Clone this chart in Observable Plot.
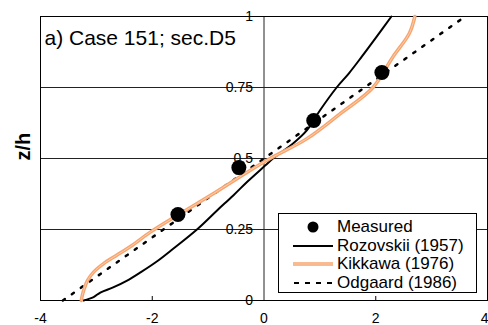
<!DOCTYPE html>
<html>
<head>
<meta charset="utf-8">
<script src="https://cdn.jsdelivr.net/npm/d3@7"></script>
<script src="https://cdn.jsdelivr.net/npm/@observablehq/plot@0.6"></script>
<style>
  html, body { margin: 0; padding: 0; background: #fff; }
  #wrap { position: relative; width: 488px; height: 325px; font-family: "Liberation Sans", Arial, sans-serif; }
  #legend { position: absolute; left: 278px; top: 213px; width: 197px; height: 78px; border: 1px solid #000; background: #fff; }
  .row { position: absolute; left: 0; height: 19px; display: flex; align-items: center; font-size: 17px; color: #000; }
  .row svg { display: block; margin-left: 14px; margin-right: 4px; }
</style>
</head>
<body>
<div id="wrap"></div>
<script>
// ---- data ----
const title = "a) Case 151; sec.D5";
const yLabel = "z/h";
const xTicks = [-4, -2, 0, 2, 4];
const xInnerTicks = [-2, 2];
const yTicks = [0, 0.25, 0.5, 0.75, 1];
const yTickLabels = ["0", "0.25", "0.5", "0.75", "1"];
const gridY = [0.25, 0.5, 0.75];

const measuredX = [-1.54, -0.45, 0.89, 2.11];
const measuredZ = [0.303, 0.468, 0.634, 0.803];

const rozovskiiX = [-3.23, -3.05, -2.93, -2.70, -2.45, -2.21, -1.90, -1.62, -1.20, -0.84, -0.55, -0.29, 0.02, 0.16, 0.52, 0.77, 1.00, 1.30, 1.52, 1.74, 2.02, 2.28];
const rozovskiiZ = [0.0, 0.012, 0.028, 0.046, 0.07, 0.099, 0.14, 0.183, 0.25, 0.317, 0.37, 0.42, 0.475, 0.5, 0.553, 0.6, 0.669, 0.75, 0.80, 0.856, 0.93, 1.0];

const kikkawaX = [-3.27, -3.25, -3.22, -3.16, -3.05, -2.87, -2.63, -2.39, -2.04, -1.50, -0.91, -0.25, 0.11, 0.77, 1.36, 1.95, 2.30, 2.60, 2.70];
const kikkawaZ = [0.0, 0.02, 0.04, 0.07, 0.10, 0.13, 0.16, 0.19, 0.24, 0.306, 0.376, 0.458, 0.5, 0.57, 0.657, 0.75, 0.856, 0.94, 1.0];

const odgaardX = [-3.6, 3.6];
const odgaardZ = [0, 1];

const seriesNames = ["Measured", "Rozovskii (1957)", "Kikkawa (1976)", "Odgaard (1986)"];

// ---- build ----
const zip = (xs, zs) => xs.map((x, i) => ({x, z: zs[i]}));
const measured = zip(measuredX, measuredZ);
const rozovskii = zip(rozovskiiX, rozovskiiZ);
const kikkawa = zip(kikkawaX, kikkawaZ);
const odgaard = zip(odgaardX, odgaardZ);
const yTickData = yTicks.map((v, i) => ({v, label: yTickLabels[i]}));
const xLabelsMain = xTicks.slice(0, -1);
const xLabelLast = xTicks.slice(-1);

const kColor = "#f7a56e";
const kInner = "#fcceb0";

const chart = Plot.plot({
  width: 488,
  height: 325,
  marginLeft: 40,
  marginRight: 1,
  marginTop: 16,
  marginBottom: 25,
  style: { fontFamily: "Liberation Sans, Arial, sans-serif", background: "#fff", color: "#000", overflow: "visible" },
  x: { domain: [-4, 4], axis: null },
  y: { domain: [0, 1], axis: null },
  marks: [
    Plot.ruleY(gridY, { stroke: "#222", strokeWidth: 1 }),
    Plot.ruleX([0], { stroke: "#222", strokeWidth: 1 }),
    Plot.frame({ stroke: "#000", strokeWidth: 1 }),
    Plot.tickX(xInnerTicks, { x: d => d, stroke: "#000", insetTop: 280 }),
    Plot.text(xLabelsMain, { x: d => d, text: d => String(d), frameAnchor: "bottom", lineAnchor: "top", dy: 13, fontSize: 14 }),
    Plot.text(xLabelLast, { x: d => d, text: d => String(d), frameAnchor: "bottom", lineAnchor: "top", textAnchor: "end", dx: 1, dy: 13, fontSize: 14 }),
    Plot.text(yTickData, { x: 0, y: "v", text: "label", textAnchor: "end", dx: -11, fontSize: 14 }),
    Plot.text([title], { frameAnchor: "top-left", dx: 4, dy: 14, lineAnchor: "top", fontSize: 21 }),
    Plot.text([yLabel], { frameAnchor: "left", dx: -17, dy: 2, rotate: -90, fontSize: 20, fontWeight: "bold" }),
    Plot.line(odgaard, { x: "x", y: "z", stroke: "#000", strokeWidth: 2.5, strokeDasharray: "2.5,8.5" }),
    Plot.line(rozovskii, { x: "x", y: "z", stroke: "#000", strokeWidth: 2, curve: "catmull-rom" }),
    Plot.line(kikkawa, { x: "x", y: "z", stroke: kColor, strokeWidth: 3.5, curve: "catmull-rom" }),
    Plot.line(kikkawa, { x: "x", y: "z", stroke: kInner, strokeWidth: 1, curve: "catmull-rom" }),
    Plot.dot(measured, { x: "x", y: "z", r: 7.5, fill: "#000", stroke: "none" })
  ]
});

const wrap = document.getElementById("wrap");
wrap.appendChild(chart);

// legend
const legend = document.createElement("div");
legend.id = "legend";
const sym = [
  `<svg width="40" height="14"><circle cx="20" cy="7" r="5.5" fill="#000"/></svg>`,
  `<svg width="40" height="14"><line x1="0" y1="7" x2="40" y2="7" stroke="#000" stroke-width="2"/></svg>`,
  `<svg width="40" height="14"><line x1="0" y1="7" x2="40" y2="7" stroke="${kColor}" stroke-width="3.5"/><line x1="0" y1="7" x2="40" y2="7" stroke="${kInner}" stroke-width="1"/></svg>`,
  `<svg width="40" height="14"><line x1="1" y1="7" x2="40" y2="7" stroke="#000" stroke-width="2" stroke-dasharray="5,6"/></svg>`
];
const rowTops = [3, 22, 40, 59];
seriesNames.forEach((name, i) => {
  const row = document.createElement("div");
  row.className = "row";
  row.style.top = rowTops[i] + "px";
  row.innerHTML = sym[i] + `<span>${name}</span>`;
  legend.appendChild(row);
});
wrap.appendChild(legend);
</script>
</body>
</html>
